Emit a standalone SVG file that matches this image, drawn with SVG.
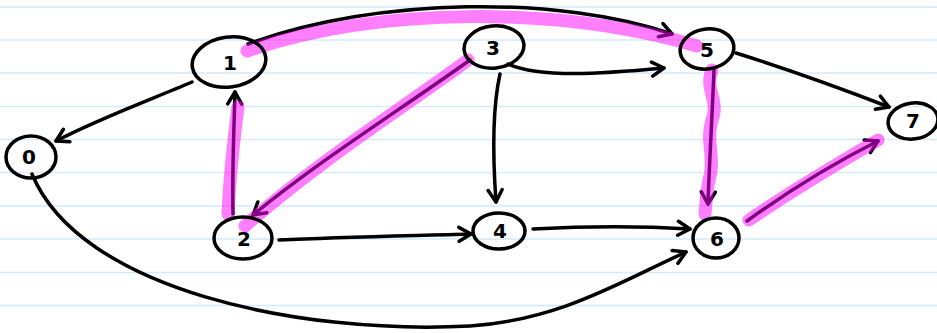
<svg xmlns="http://www.w3.org/2000/svg" width="937" height="333" viewBox="0 0 937 333">
<style>
.rule{stroke:#d4eaf7;stroke-width:1.5}
.node ellipse{fill:none;stroke:#000;stroke-width:3.5}
.node text{font-family:"DejaVu Sans",sans-serif;font-size:20px;font-weight:bold;fill:#000;text-anchor:middle}
.edge{fill:none;stroke:#000;stroke-width:3.5;stroke-linecap:round;marker-end:url(#arr)}
.hl{fill:none;stroke:#ff00ff;stroke-opacity:0.5;stroke-width:13;stroke-linecap:round}
</style>
<defs>
<marker id="arr" viewBox="0 0 18 18" refX="15" refY="9" markerWidth="18" markerHeight="18" markerUnits="userSpaceOnUse" orient="auto">
<path d="M3,2 L15,9 L3,16" fill="none" stroke="#000" stroke-width="3.5" stroke-linecap="round" stroke-linejoin="round"/>
</marker>
</defs>
<rect width="937" height="333" fill="#fff"/>
<g id="paper">
<line class="rule" x1="0" y1="7" x2="937" y2="7"/>
<line class="rule" x1="0" y1="40" x2="937" y2="40"/>
<line class="rule" x1="0" y1="73" x2="937" y2="73"/>
<line class="rule" x1="0" y1="106.5" x2="937" y2="106.5"/>
<line class="rule" x1="0" y1="139.5" x2="937" y2="139.5"/>
<line class="rule" x1="0" y1="172.5" x2="937" y2="172.5"/>
<line class="rule" x1="0" y1="206" x2="937" y2="206"/>
<line class="rule" x1="0" y1="239" x2="937" y2="239"/>
<line class="rule" x1="0" y1="272.5" x2="937" y2="272.5"/>
<line class="rule" x1="0" y1="305.5" x2="937" y2="305.5"/>
</g>
<g id="connectors">
<path id="e1-0" class="edge" d="M192,82 C150,100 100,118 56,141"/>
<path id="e2-1" class="edge" d="M233,214 C232,170 234,130 235,92"/>
<path id="e3-2" class="edge" d="M470,60 C400,110 320,160 253,215"/>
<path id="e1-5" class="edge" d="M248,44 C380,-4 560,-4 672,34"/>
<path id="e3-5" class="edge" d="M508,64 C540,78 600,74 664,68"/>
<path id="e3-4" class="edge" d="M500,74 C492,110 493,160 496,202"/>
<path id="e5-6" class="edge" d="M714,70 C712,120 709,170 708,204"/>
<path id="e5-7" class="edge" d="M736,53 C790,70 840,88 889,107"/>
<path id="e6-7" class="edge" d="M747,221 C790,190 830,165 878,141"/>
<path id="e2-4" class="edge" d="M279,240 C340,237 400,236 471,234"/>
<path id="e4-6" class="edge" d="M533,229 C590,226 640,226 690,229"/>
<path id="e0-6" class="edge" d="M32,174 C80,290 300,335 470,326 C560,320 620,282 686,252"/>
<path class="hl" d="M247,51 C380,6 560,6 697,46"/>
<path class="hl" d="M468,60 C400,110 320,160 245,226"/>
<path class="hl" d="M228,214 C230,170 235,130 238,107"/>
<path class="hl" d="M712,70 C704,90 720,100 712,120 C705,140 716,160 709,180 C706,195 706,205 705,214"/>
<path class="hl" d="M749,220 C790,192 835,165 878,140"/>
</g>
<g id="n0" class="node"><ellipse cx="31" cy="157" rx="25" ry="21"/><text x="29" y="164">0</text></g>
<g id="n1" class="node"><ellipse cx="229" cy="62" rx="37" ry="25" transform="rotate(-8 229 62)"/><text x="230" y="70">1</text></g>
<g id="n2" class="node"><ellipse cx="243" cy="238" rx="29" ry="21"/><text x="244" y="246">2</text></g>
<g id="n3" class="node"><ellipse cx="494" cy="47" rx="30" ry="21" transform="rotate(-6 494 47)"/><text x="493" y="55">3</text></g>
<g id="n4" class="node"><ellipse cx="499" cy="231" rx="26" ry="18"/><text x="500" y="238">4</text></g>
<g id="n5" class="node"><ellipse cx="707" cy="49" rx="27" ry="20" transform="rotate(-8 707 49)"/><text x="707" y="57">5</text></g>
<g id="n6" class="node"><ellipse cx="716" cy="238" rx="23" ry="20"/><text x="717" y="246">6</text></g>
<g id="n7" class="node"><ellipse cx="913" cy="121" rx="25" ry="18" transform="rotate(-8 913 121)"/><text x="913" y="128">7</text></g>
</svg>
